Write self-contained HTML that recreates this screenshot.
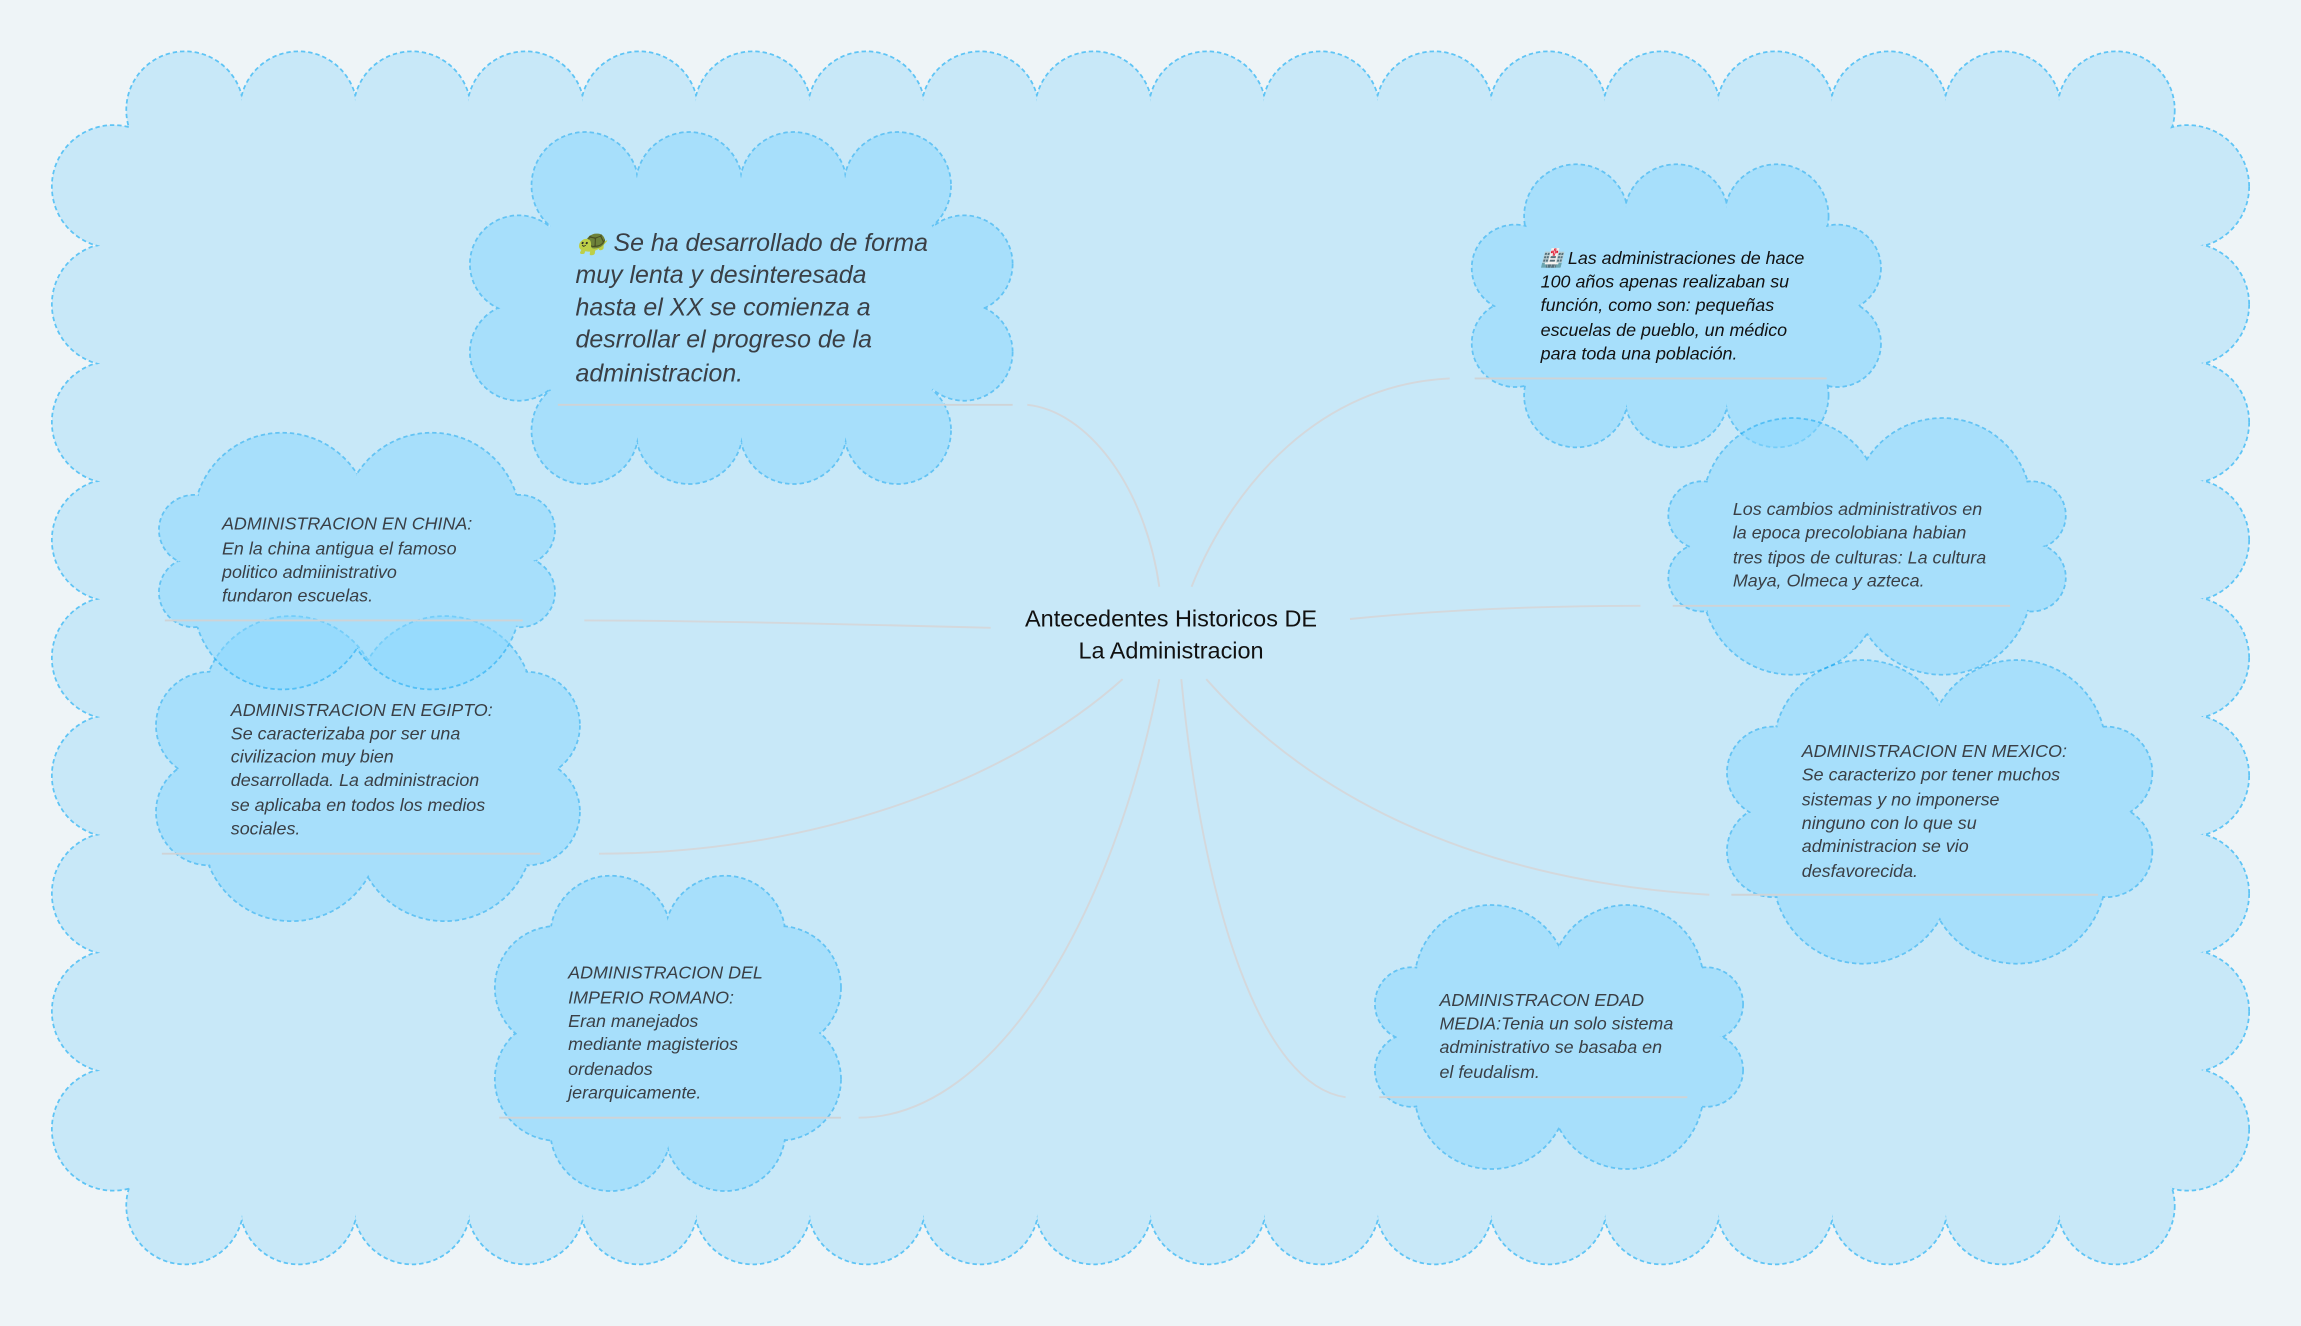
<!DOCTYPE html>
<html><head><meta charset="utf-8">
<style>
html,body{margin:0;padding:0;background:#eef4f7;}
svg{display:block}
text{font-family:"Liberation Sans",sans-serif;}
.n{font-style:italic;fill:#3a3f45;font-size:12.2px;}
</style></head>
<body>
<svg id="s" width="2301" height="1326" viewBox="0 0 1568 904" xmlns="http://www.w3.org/2000/svg">
<rect width="1568" height="904" fill="#eef4f7"/>
<g id="bg"></g>
<g id="conn" fill="none" stroke="#d4d8dc" stroke-width="1.3">
<path d="M790 400 C780 330 740 280 700 276"/>
<path d="M812 400 C840 330 900 262 988 258"/>
<path d="M920 422 C990 415 1060 413 1118 413"/>
<path d="M822 463 C890 540 1000 600 1165 610"/>
<path d="M805 463 C820 620 860 740 917 748"/>
<path d="M790 463 C760 620 680 762 585 762"/>
<path d="M765 463 C690 530 560 582 408 582"/>
<path d="M675 428 C560 425 460 423 398 423"/>
</g>
<g id="nodes"></g>
<g id="lines" stroke="#cfd3d6" stroke-width="1.3">
<line x1="380" y1="276" x2="690" y2="276"/>
<line x1="1005" y1="258" x2="1245" y2="258"/>
<line x1="1140" y1="413" x2="1370" y2="413"/>
<line x1="1180" y1="610" x2="1430" y2="610"/>
<line x1="940" y1="748" x2="1150" y2="748"/>
<line x1="340" y1="762" x2="573" y2="762"/>
<line x1="110" y1="582" x2="368" y2="582"/>
<line x1="112" y1="423" x2="356" y2="423"/>
</g>
<g id="txt">
<text x="798" y="427" text-anchor="middle" font-size="16" fill="#111">Antecedentes Historicos DE</text>
<text x="798" y="449" text-anchor="middle" font-size="16" fill="#111">La Administracion</text>
<g style="font-style:italic" fill="#3a3f45" font-size="17">
<text x="392" y="171">🐢 Se ha desarrollado de forma</text>
<text x="392" y="193">muy lenta y desinteresada</text>
<text x="392" y="215">hasta el XX se comienza a</text>
<text x="392" y="237">desrrollar el progreso de la</text>
<text x="392" y="260">administracion.</text>
</g>
<text class="n" x="1050" y="180" style="fill:#111">🏥 Las administraciones de hace</text>
<text class="n" x="1050" y="196" style="fill:#111">100 años apenas realizaban su</text>
<text class="n" x="1050" y="212" style="fill:#111">función, como son: pequeñas</text>
<text class="n" x="1050" y="229" style="fill:#111">escuelas de pueblo, un médico</text>
<text class="n" x="1050" y="245" style="fill:#111">para toda una población.</text>

<text class="n" x="1181" y="351">Los cambios administrativos en</text>
<text class="n" x="1181" y="367">la epoca precolobiana habian</text>
<text class="n" x="1181" y="384">tres tipos de culturas: La cultura</text>
<text class="n" x="1181" y="400">Maya, Olmeca y azteca.</text>

<text class="n" x="1228" y="516">ADMINISTRACION EN MEXICO:</text>
<text class="n" x="1228" y="532">Se caracterizo por tener muchos</text>
<text class="n" x="1228" y="549">sistemas y no imponerse</text>
<text class="n" x="1228" y="565">ninguno con lo que su</text>
<text class="n" x="1228" y="581">administracion se vio</text>
<text class="n" x="1228" y="598">desfavorecida.</text>

<text class="n" x="981" y="686">ADMINISTRACON EDAD</text>
<text class="n" x="981" y="702">MEDIA:Tenia un solo sistema</text>
<text class="n" x="981" y="718">administrativo se basaba en</text>
<text class="n" x="981" y="735">el feudalism.</text>

<text class="n" x="387" y="667">ADMINISTRACION DEL</text>
<text class="n" x="387" y="684">IMPERIO ROMANO:</text>
<text class="n" x="387" y="700">Eran manejados</text>
<text class="n" x="387" y="716">mediante magisterios</text>
<text class="n" x="387" y="733">ordenados</text>
<text class="n" x="387" y="749">jerarquicamente.</text>

<text class="n" x="157" y="488">ADMINISTRACION EN EGIPTO:</text>
<text class="n" x="157" y="504">Se caracterizaba por ser una</text>
<text class="n" x="157" y="520">civilizacion muy bien</text>
<text class="n" x="157" y="536">desarrollada. La administracion</text>
<text class="n" x="157" y="553">se aplicaba en todos los medios</text>
<text class="n" x="157" y="569">sociales.</text>

<text class="n" x="151" y="361">ADMINISTRACION EN CHINA:</text>
<text class="n" x="151" y="378">En la china antigua el famoso</text>
<text class="n" x="151" y="394">politico admiinistrativo</text>
<text class="n" x="151" y="410">fundaron escuelas.</text>
</g>
</svg>
<script>
var NS="http://www.w3.org/2000/svg";
function el(p,t,a){var e=document.createElementNS(NS,t);for(var k in a)e.setAttribute(k,a[k]);p.appendChild(e);return e;}
// a: horizontal inset of top/bottom rows, b: vertical inset of side columns
function cloud(parent,x1,y1,x2,y2,a,b,nx,ny,dt,ds,fill,stroke,op){
  var g=el(parent,"g",op?{opacity:op}:{});
  var h=(x2-x1-2*a)/(2*nx), rt=(h*h+dt*dt)/(2*dt);
  var hs=(y2-y1-2*b)/(2*ny), rs=(hs*hs+ds*ds)/(2*ds);
  var top=[],bot=[],lef=[],rig=[];
  for(var i=0;i<nx;i++){var x=x1+a+h+2*h*i;top.push([x,y1+rt,rt]);bot.push([x,y2-rt,rt]);}
  for(var j=0;j<ny;j++){var y=y1+b+hs+2*hs*j;lef.push([x1+rs,y,rs]);rig.push([x2-rs,y,rs]);}
  var all=top.concat(rig,bot.slice().reverse(),lef.slice().reverse());
  all.forEach(function(p){el(g,"circle",{cx:p[0],cy:p[1],r:p[2],fill:fill,stroke:stroke,"stroke-width":1.2,"stroke-dasharray":"3 2"});});
  all.forEach(function(p){el(g,"circle",{cx:p[0],cy:p[1],r:p[2]-0.9,fill:fill});});
  el(g,"polygon",{points:all.map(function(p){return p[0]+","+p[1];}).join(" "),fill:fill});
}
var bg=document.getElementById("bg"),nd=document.getElementById("nodes");
cloud(bg,35,35,1533,862,52,52,18,9,30,30,"#c8e8f8","#5ec4f5");
var F="#88d8ff",S="#00a0f2",O=0.5;
cloud(nd,320,90,690,330,43,60,4,2,28,19,F,S,O);
cloud(nd,1003,112,1282,305,37,45,3,2,26,15,F,S,O);
cloud(nd,1137,285,1408,460,33,45,2,2,28,14,F,S,O);
cloud(nd,1177,450,1467,657,40,50,2,2,30,15,F,S,O);
cloud(nd,937,617,1188,797,33,45,2,2,28,14,F,S,O);
cloud(nd,337,597,573,812,40,45,2,2,28,14,F,S,O);
cloud(nd,106,420,395,628,40,45,2,2,30,15,F,S,O);
cloud(nd,108,295,378,470,33,45,2,2,28,13,F,S,O);
</script>
</body></html>
